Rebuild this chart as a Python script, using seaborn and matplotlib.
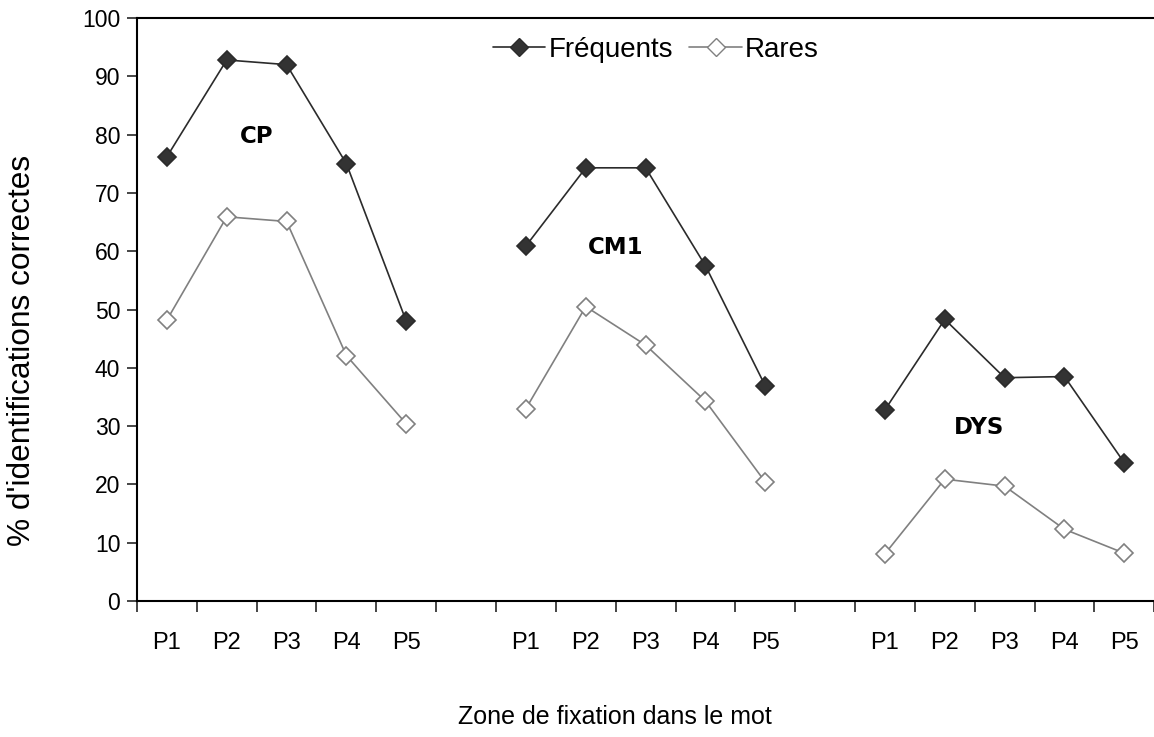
import pandas as pd
import seaborn as sns
import matplotlib.pyplot as plt
from matplotlib.lines import Line2D

# Data
groups = ['CP', 'CM1', 'DYS']
zones = ['P1', 'P2', 'P3', 'P4', 'P5']
frequents = {
    'CP': [76.2, 92.8, 92.0, 75.0, 48.0],
    'CM1': [60.9, 74.3, 74.3, 57.5, 36.9],
    'DYS': [32.8, 48.3, 38.3, 38.5, 23.7],
}
rares = {
    'CP': [48.2, 65.9, 65.1, 42.1, 30.4],
    'CM1': [33.0, 50.5, 43.9, 34.3, 20.4],
    'DYS': [8.1, 20.9, 19.7, 12.3, 8.2],
}

# Build long table; one empty slot between groups
rows = []
for g_i, g in enumerate(groups):
    for z_i, z in enumerate(zones):
        pos = g_i * 6 + z_i + 0.5
        rows.append({'group': g, 'zone': z, 'pos': pos, 'serie': 'Fréquents', 'value': frequents[g][z_i]})
        rows.append({'group': g, 'zone': z, 'pos': pos, 'serie': 'Rares', 'value': rares[g][z_i]})
df = pd.DataFrame(rows)

sns.set_style('white')
plt.rcParams['font.family'] = ['Liberation Sans', 'DejaVu Sans']

fig = plt.figure(figsize=(11.54, 7.37), dpi=100)
ax = fig.add_axes([0.1187, 0.1845, 0.8815, 0.7911])

styles = {
    'Fréquents': dict(color='#2b2b2b', mfc='#333333', mec='#2b2b2b'),
    'Rares': dict(color='#808080', mfc='white', mec='#808080'),
}
for g in groups:
    for s in ['Fréquents', 'Rares']:
        sub = df[(df['group'] == g) & (df['serie'] == s)]
        sns.lineplot(data=sub, x='pos', y='value', ax=ax, color=styles[s]['color'],
                     marker='D', markersize=9, markerfacecolor=styles[s]['mfc'],
                     markeredgecolor=styles[s]['mec'], markeredgewidth=1.2,
                     linewidth=1.2, estimator=None, legend=False)

# group labels
label_pos = {'CP': (2.0, 79.6), 'CM1': (8.0, 60.7), 'DYS': (14.07, 29.8)}
for g, (x, y) in label_pos.items():
    ax.text(x, y, g, ha='center', va='center', fontsize=16.5, fontweight='bold',
            family='DejaVu Sans', color='black')

ax.set_xlim(0, 17)
ax.set_ylim(0, 100)
ax.set_yticks(range(0, 101, 10))
ax.tick_params(axis='y', direction='out', length=7, width=1.2, labelsize=16.5, left=True,
               pad=5, labelcolor='black')

centers = sorted(df['pos'].unique())
ax.set_xticks(centers)
ax.set_xticklabels(zones * 3)
ax.set_xticks(range(0, 18), minor=True)
ax.tick_params(axis='x', which='major', length=0, labelsize=17, pad=22, labelcolor='black')
ax.tick_params(axis='x', which='minor', direction='out', length=8, width=1.2, bottom=True)

for side in ['left', 'bottom', 'top']:
    ax.spines[side].set_linewidth(1.5)
    ax.spines[side].set_color('black')
ax.spines['right'].set_visible(False)

ax.set_ylabel("% d'identifications correctes", fontsize=22.8, color='black', va='center')
ax.yaxis.set_label_coords(-0.113, 0.43)
ax.set_xlabel('Zone de fixation dans le mot', fontsize=18, color='black', va='center')
ax.xaxis.set_label_coords(0.4695, -0.199)

handles = [
    Line2D([], [], color='#2b2b2b', marker='D', markersize=9, mfc='#333333', mec='#2b2b2b', lw=1.2),
    Line2D([], [], color='#808080', marker='D', markersize=9, mfc='white', mec='#808080', lw=1.2),
]
ax.legend(handles, ['Fréquents', 'Rares'], loc='upper center', bbox_to_anchor=(0.51, 1.01),
          ncol=2, frameon=False, fontsize=20, handlelength=1.9, handletextpad=0.1,
          columnspacing=0.6, labelcolor='black')

fig.savefig('out.png', dpi=100)
